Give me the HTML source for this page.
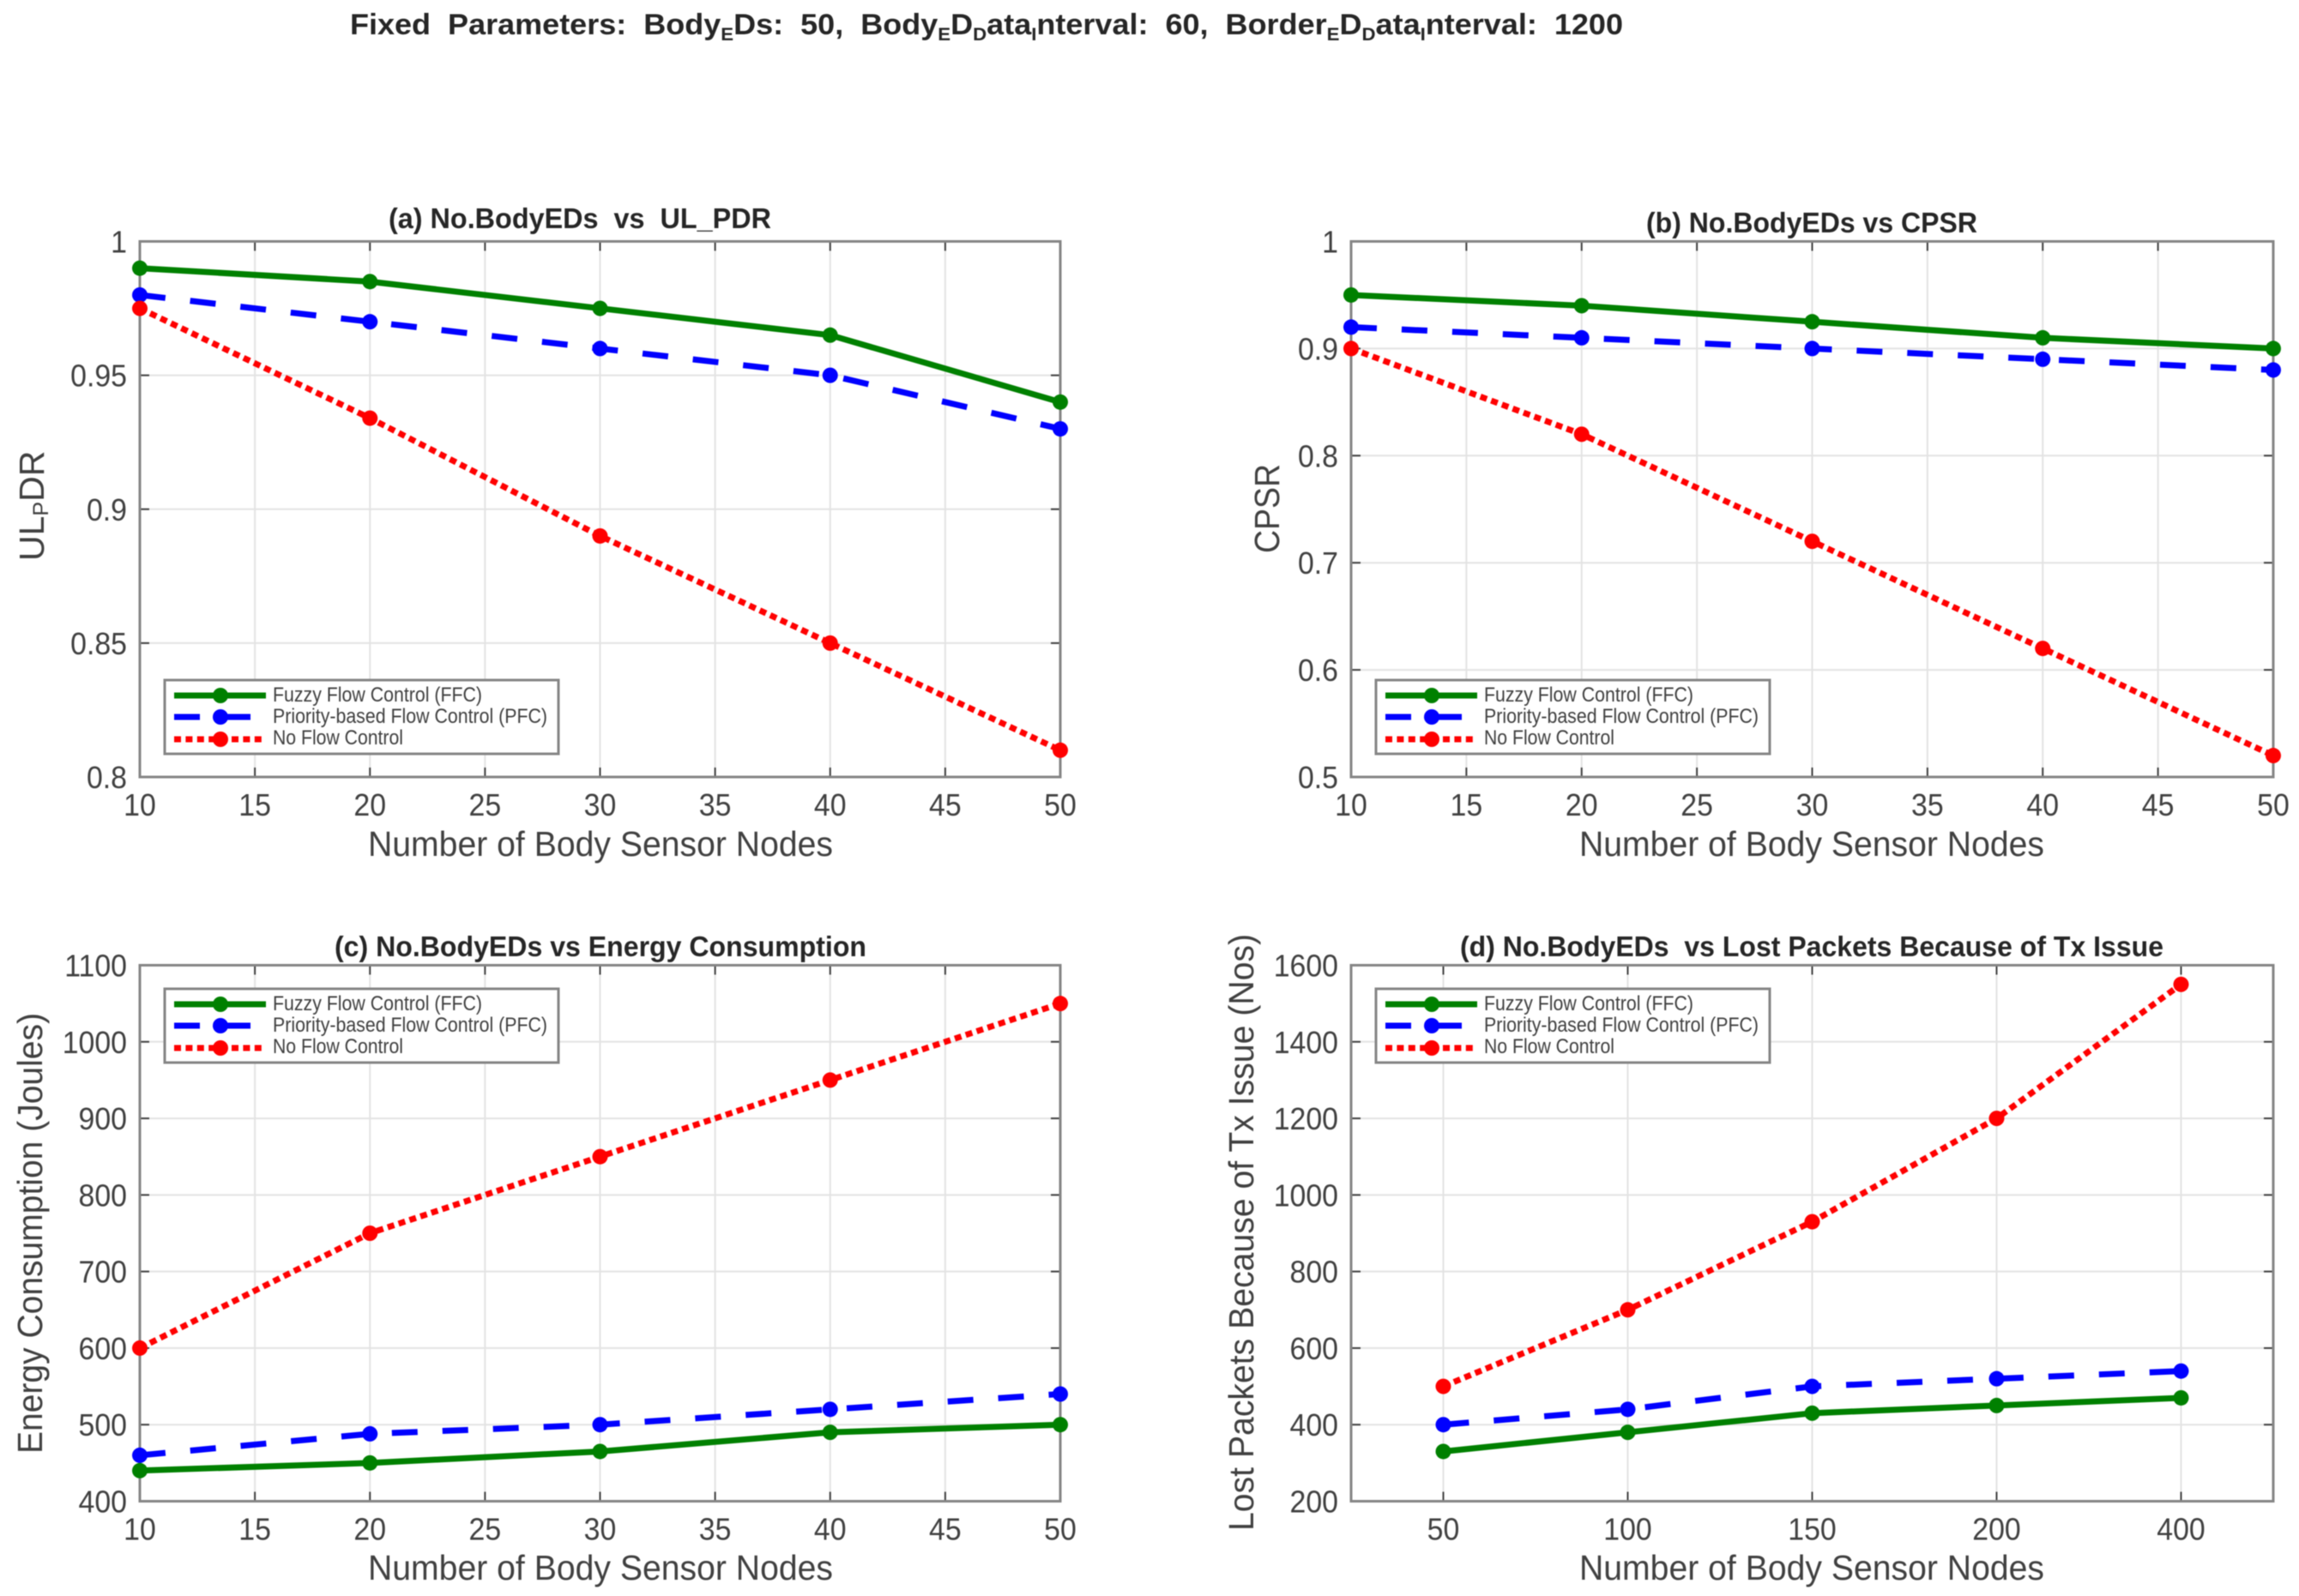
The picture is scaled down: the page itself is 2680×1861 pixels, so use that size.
<!DOCTYPE html>
<html lang="en">
<head>
<meta charset="utf-8">
<title>Flow control comparison charts</title>
<style>
html,body{margin:0;padding:0;background:#fff;}
svg{display:block;filter:blur(0.5px);}
text{font-family:"Liberation Sans",sans-serif;}
.tick{font-size:36px;fill:#404040;}
.axis-label{font-size:41px;fill:#404040;}
.title{font-size:33px;font-weight:bold;fill:#262626;}
.legend-text{font-size:24px;fill:#404040;}
.main{font-size:34px;font-weight:bold;fill:#262626;}
</style>
</head>
<body>
<svg id="figure" width="2680" height="1861" viewBox="0 0 2680 1861" xmlns="http://www.w3.org/2000/svg">
<rect width="2680" height="1861" fill="#fff"/>

<text class="main" x="408" y="40" xml:space="preserve" textLength="1484" lengthAdjust="spacingAndGlyphs">Fixed  Parameters:  Body<tspan dy="7" font-size="21">E</tspan><tspan dy="-7">Ds:  50,  Body</tspan><tspan dy="7" font-size="21">E</tspan><tspan dy="-7">D</tspan><tspan dy="7" font-size="21">D</tspan><tspan dy="-7">ata</tspan><tspan dy="7" font-size="21">I</tspan><tspan dy="-7">nterval:  60,  Border</tspan><tspan dy="7" font-size="21">E</tspan><tspan dy="-7">D</tspan><tspan dy="7" font-size="21">D</tspan><tspan dy="-7">ata</tspan><tspan dy="7" font-size="21">I</tspan><tspan dy="-7">nterval:  1200</tspan></text>

<!-- Panel a -->
<g>
  <text class="title" x="453" y="266" textLength="446" lengthAdjust="spacingAndGlyphs" xml:space="preserve">(a) No.BodyEDs  vs  UL_PDR</text>
  <g id="axes-a"></g>
  <g id="marks-a"></g>
  <text class="axis-label" x="700" y="998" text-anchor="middle" textLength="542" lengthAdjust="spacingAndGlyphs">Number of Body Sensor Nodes</text>
  <text class="axis-label" transform="translate(51,654) rotate(-90)">UL<tspan dy="5" font-size="25">P</tspan><tspan dy="-5">DR</tspan></text>
  <g transform="translate(0,0)">
    <rect x="192" y="793" width="459" height="86" fill="#fff" stroke="#858585" stroke-width="3"/>
    <line x1="203" x2="310" y1="811" y2="811" stroke="#008000" stroke-width="7"/>
    <circle cx="257" cy="811" r="9" fill="#008000"/>
    <line x1="203" x2="293" y1="836" y2="836" stroke="#0000ff" stroke-width="7" stroke-dasharray="30 29"/>
    <circle cx="257" cy="836" r="9" fill="#0000ff"/>
    <line x1="203" x2="307" y1="862" y2="862" stroke="#ff0000" stroke-width="7" stroke-dasharray="8 5.4"/>
    <circle cx="257" cy="862" r="9" fill="#ff0000"/>
    <text class="legend-text" x="318" y="818" textLength="244" lengthAdjust="spacingAndGlyphs">Fuzzy Flow Control (FFC)</text>
    <text class="legend-text" x="318" y="843" textLength="320" lengthAdjust="spacingAndGlyphs">Priority-based Flow Control (PFC)</text>
    <text class="legend-text" x="318" y="868" textLength="152" lengthAdjust="spacingAndGlyphs">No Flow Control</text>
  </g>
</g>

<!-- Panel b -->
<g>
  <text class="title" x="1919" y="271" textLength="386" lengthAdjust="spacingAndGlyphs">(b) No.BodyEDs vs CPSR</text>
  <g id="axes-b"></g>
  <g id="marks-b"></g>
  <text class="axis-label" x="2112" y="998" text-anchor="middle" textLength="542" lengthAdjust="spacingAndGlyphs">Number of Body Sensor Nodes</text>
  <text class="axis-label" transform="translate(1491,645) rotate(-90)" textLength="104" lengthAdjust="spacingAndGlyphs">CPSR</text>
  <g transform="translate(1412,0)">
    <rect x="192" y="793" width="459" height="86" fill="#fff" stroke="#858585" stroke-width="3"/>
    <line x1="203" x2="310" y1="811" y2="811" stroke="#008000" stroke-width="7"/>
    <circle cx="257" cy="811" r="9" fill="#008000"/>
    <line x1="203" x2="293" y1="836" y2="836" stroke="#0000ff" stroke-width="7" stroke-dasharray="30 29"/>
    <circle cx="257" cy="836" r="9" fill="#0000ff"/>
    <line x1="203" x2="307" y1="862" y2="862" stroke="#ff0000" stroke-width="7" stroke-dasharray="8 5.4"/>
    <circle cx="257" cy="862" r="9" fill="#ff0000"/>
    <text class="legend-text" x="318" y="818" textLength="244" lengthAdjust="spacingAndGlyphs">Fuzzy Flow Control (FFC)</text>
    <text class="legend-text" x="318" y="843" textLength="320" lengthAdjust="spacingAndGlyphs">Priority-based Flow Control (PFC)</text>
    <text class="legend-text" x="318" y="868" textLength="152" lengthAdjust="spacingAndGlyphs">No Flow Control</text>
  </g>
</g>

<!-- Panel c -->
<g>
  <text class="title" x="390" y="1115" textLength="620" lengthAdjust="spacingAndGlyphs">(c) No.BodyEDs vs Energy Consumption</text>
  <g id="axes-c"></g>
  <g id="marks-c"></g>
  <text class="axis-label" x="700" y="1842" text-anchor="middle" textLength="542" lengthAdjust="spacingAndGlyphs">Number of Body Sensor Nodes</text>
  <text class="axis-label" transform="translate(49,1695) rotate(-90)" textLength="514" lengthAdjust="spacingAndGlyphs">Energy Consumption (Joules)</text>
  <g transform="translate(0,360)">
    <rect x="192" y="793" width="459" height="86" fill="#fff" stroke="#858585" stroke-width="3"/>
    <line x1="203" x2="310" y1="811" y2="811" stroke="#008000" stroke-width="7"/>
    <circle cx="257" cy="811" r="9" fill="#008000"/>
    <line x1="203" x2="293" y1="836" y2="836" stroke="#0000ff" stroke-width="7" stroke-dasharray="30 29"/>
    <circle cx="257" cy="836" r="9" fill="#0000ff"/>
    <line x1="203" x2="307" y1="862" y2="862" stroke="#ff0000" stroke-width="7" stroke-dasharray="8 5.4"/>
    <circle cx="257" cy="862" r="9" fill="#ff0000"/>
    <text class="legend-text" x="318" y="818" textLength="244" lengthAdjust="spacingAndGlyphs">Fuzzy Flow Control (FFC)</text>
    <text class="legend-text" x="318" y="843" textLength="320" lengthAdjust="spacingAndGlyphs">Priority-based Flow Control (PFC)</text>
    <text class="legend-text" x="318" y="868" textLength="152" lengthAdjust="spacingAndGlyphs">No Flow Control</text>
  </g>
</g>

<!-- Panel d -->
<g>
  <text class="title" x="1702" y="1115" textLength="820" lengthAdjust="spacingAndGlyphs" xml:space="preserve">(d) No.BodyEDs  vs Lost Packets Because of Tx Issue</text>
  <g id="axes-d"></g>
  <g id="marks-d"></g>
  <text class="axis-label" x="2112" y="1842" text-anchor="middle" textLength="542" lengthAdjust="spacingAndGlyphs">Number of Body Sensor Nodes</text>
  <text class="axis-label" transform="translate(1461,1785) rotate(-90)" textLength="696" lengthAdjust="spacingAndGlyphs">Lost Packets Because of Tx Issue (Nos)</text>
  <g transform="translate(1412,360)">
    <rect x="192" y="793" width="459" height="86" fill="#fff" stroke="#858585" stroke-width="3"/>
    <line x1="203" x2="310" y1="811" y2="811" stroke="#008000" stroke-width="7"/>
    <circle cx="257" cy="811" r="9" fill="#008000"/>
    <line x1="203" x2="293" y1="836" y2="836" stroke="#0000ff" stroke-width="7" stroke-dasharray="30 29"/>
    <circle cx="257" cy="836" r="9" fill="#0000ff"/>
    <line x1="203" x2="307" y1="862" y2="862" stroke="#ff0000" stroke-width="7" stroke-dasharray="8 5.4"/>
    <circle cx="257" cy="862" r="9" fill="#ff0000"/>
    <text class="legend-text" x="318" y="818" textLength="244" lengthAdjust="spacingAndGlyphs">Fuzzy Flow Control (FFC)</text>
    <text class="legend-text" x="318" y="843" textLength="320" lengthAdjust="spacingAndGlyphs">Priority-based Flow Control (PFC)</text>
    <text class="legend-text" x="318" y="868" textLength="152" lengthAdjust="spacingAndGlyphs">No Flow Control</text>
  </g>
</g>
</svg>

<script>
// ---- Data ----
const nodeCounts = [10, 20, 30, 40, 50];
const nodeTicks = [10, 15, 20, 25, 30, 35, 40, 45, 50];
const packetCategories = ['50', '100', '150', '200', '400'];

const pdrTicks = [0.8, 0.85, 0.9, 0.95, 1];
const pdrFFC = [0.99, 0.985, 0.975, 0.965, 0.94];
const pdrPFC = [0.98, 0.97, 0.96, 0.95, 0.93];
const pdrNone = [0.975, 0.934, 0.89, 0.85, 0.81];

const cpsrTicks = [0.5, 0.6, 0.7, 0.8, 0.9, 1];
const cpsrFFC = [0.95, 0.94, 0.925, 0.91, 0.90];
const cpsrPFC = [0.92, 0.91, 0.90, 0.89, 0.88];
const cpsrNone = [0.90, 0.82, 0.72, 0.62, 0.52];

const energyTicks = [400, 500, 600, 700, 800, 900, 1000, 1100];
const energyFFC = [440, 450, 465, 490, 500];
const energyPFC = [460, 488, 500, 520, 540];
const energyNone = [600, 750, 850, 950, 1050];

const lostTicks = [200, 400, 600, 800, 1000, 1200, 1400, 1600];
const lostFFC = [330, 380, 430, 450, 470];
const lostPFC = [400, 440, 500, 520, 540];
const lostNone = [500, 700, 930, 1200, 1550];

// ---- Drawing ----
const NS = 'http://www.w3.org/2000/svg';
function make(tag, attrs, parent) {
  const node = document.createElementNS(NS, tag);
  for (const key in attrs) node.setAttribute(key, attrs[key]);
  parent.appendChild(node);
  return node;
}

// Tick labels are slightly condensed, as in the reference.
function condense(label) {
  const len = label.getComputedTextLength();
  label.setAttribute('textLength', (len * 0.94).toFixed(2));
  label.setAttribute('lengthAdjust', 'spacingAndGlyphs');
}

function drawPanel(id, box, xDomain, yDomain, xTickValues, xTickText, yTickValues, xPoints, series) {
  const axes = document.getElementById('axes-' + id);
  const marks = document.getElementById('marks-' + id);
  const xScale = v => box.left + (v - xDomain[0]) / (xDomain[1] - xDomain[0]) * (box.right - box.left);
  const yScale = v => box.bottom - (v - yDomain[0]) / (yDomain[1] - yDomain[0]) * (box.bottom - box.top);

  xTickValues.forEach((v, i) => {
    const x = xScale(v);
    const grid = make('line', {x1: x, x2: x, y1: box.top, y2: box.bottom, stroke: '#e3e3e3', 'stroke-width': 2}, axes);
    
    
    const tickB = make('line', {x1: x, x2: x, y1: box.bottom, y2: box.bottom - 11, stroke: '#404040', 'stroke-width': 2}, axes);
    
    
    const tickT = make('line', {x1: x, x2: x, y1: box.top, y2: box.top + 11, stroke: '#404040', 'stroke-width': 2}, axes);
    
    
    const label = make('text', {x: x, y: box.bottom + 45, 'text-anchor': 'middle', class: 'tick'}, axes);
    
    
    label.textContent = xTickText[i];
    condense(label);
  });

  yTickValues.forEach(v => {
    const y = yScale(v);
    const grid = make('line', {x1: box.left, x2: box.right, y1: y, y2: y, stroke: '#e3e3e3', 'stroke-width': 2}, axes);
    
    
    const tickL = make('line', {x1: box.left, x2: box.left + 11, y1: y, y2: y, stroke: '#404040', 'stroke-width': 2}, axes);
    
    
    const tickR = make('line', {x1: box.right, x2: box.right - 11, y1: y, y2: y, stroke: '#404040', 'stroke-width': 2}, axes);
    
    
    const label = make('text', {x: box.left - 15, y: y + 13, 'text-anchor': 'end', class: 'tick'}, axes);
    
    
    label.textContent = String(v);
    condense(label);
  });

  const frame = make('rect', {x: box.left, y: box.top, width: box.right - box.left, height: box.bottom - box.top, fill: 'none', stroke: '#858585', 'stroke-width': 3}, axes);
  
  

  series.forEach(s => {
    const pts = s.values.map((v, i) => xScale(xPoints[i]).toFixed(2) + ',' + yScale(v).toFixed(2)).join(' ');
    const line = make('polyline', {points: pts, fill: 'none', stroke: s.color, 'stroke-width': 7, 'stroke-dasharray': s.dash}, marks);
    
    
    s.values.forEach((v, i) => {
      const dot = make('circle', {cx: xScale(xPoints[i]), cy: yScale(v), r: 9, fill: s.color}, marks);
      
      
    });
  });
}

function trio(ffc, pfc, none) {
  return [
    {name: 'ffc', values: ffc, color: '#008000', dash: 'none'},
    {name: 'pfc', values: pfc, color: '#0000ff', dash: '30 29'},
    {name: 'none', values: none, color: '#ff0000', dash: '8 5.4'}
  ];
}

const categoryIndex = packetCategories.map((c, i) => i + 1);

drawPanel('a', {left: 163, right: 1236, top: 281.5, bottom: 906}, [10, 50], [0.8, 1], nodeTicks, nodeTicks, pdrTicks, nodeCounts, trio(pdrFFC, pdrPFC, pdrNone));
drawPanel('b', {left: 1575, right: 2650, top: 281.5, bottom: 906}, [10, 50], [0.5, 1], nodeTicks, nodeTicks, cpsrTicks, nodeCounts, trio(cpsrFFC, cpsrPFC, cpsrNone));
drawPanel('c', {left: 163, right: 1236, top: 1125.5, bottom: 1750.5}, [10, 50], [400, 1100], nodeTicks, nodeTicks, energyTicks, nodeCounts, trio(energyFFC, energyPFC, energyNone));
drawPanel('d', {left: 1575, right: 2650, top: 1125.5, bottom: 1750.5}, [0.5, 5.5], [200, 1600], categoryIndex, packetCategories, lostTicks, categoryIndex, trio(lostFFC, lostPFC, lostNone));
</script>
</body>
</html>
